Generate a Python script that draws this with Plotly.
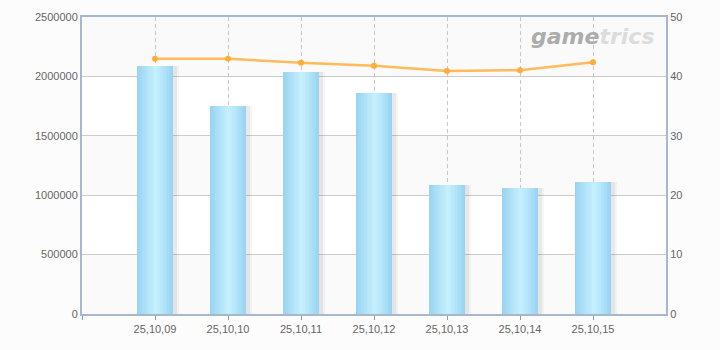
import plotly.graph_objects as go

categories = ["25,10,09", "25,10,10", "25,10,11", "25,10,12", "25,10,13", "25,10,14", "25,10,15"]
bar_values = [2090000, 1750000, 2036000, 1860000, 1084000, 1059000, 1109000]
line_values = [42.96, 42.96, 42.3, 41.8, 40.9, 41.05, 42.4]
left_ticks = [0, 500000, 1000000, 1500000, 2000000, 2500000]
right_ticks = [0, 10, 20, 30, 40, 50]

x = list(range(len(categories)))

fig = go.Figure()

# shadow
for off, col in [(0.075, "rgba(0,0,0,0.035)"), (0.045, "rgba(0,0,0,0.05)")]:
    fig.add_trace(go.Bar(x=x, y=bar_values, width=0.5, offset=-0.25 + off,
                         marker=dict(color=col, line=dict(width=0)),
                         hoverinfo="skip", showlegend=False))

# gradient layers
def lerp(c1, c2, t):
    return "#%02x%02x%02x" % tuple(int(round(a + (b - a) * t)) for a, b in zip(c1, c2))

edge_l = (0x98, 0xd3, 0xf1)
center = (0xc4, 0xef, 0xfd)
n = 12
for i in range(n):
    w = 0.5 * (n - i) / n
    t = i / (n - 1)
    col = lerp(edge_l, center, t ** 0.9)
    fig.add_trace(go.Bar(x=x, y=bar_values, width=w, offset=-w / 2 + 0.01 * t,
                         marker=dict(color=col, line=dict(width=0)),
                         hoverinfo="skip", showlegend=False))

fig.add_trace(go.Scatter(x=x, y=line_values, yaxis="y2", mode="lines+markers",
                         line=dict(color="rgba(255,175,60,0.85)", width=2.5),
                         marker=dict(color="#ffad3a", size=6),
                         showlegend=False))

shapes = []
for i in range(0, len(left_ticks) - 1, 2):
    shapes.append(dict(type="rect", xref="paper", yref="y", x0=0, x1=1,
                       y0=left_ticks[i], y1=left_ticks[i + 1],
                       fillcolor="#fafafa", line=dict(width=0), layer="below"))

font = dict(family="Liberation Sans, Arial, sans-serif", size=11, color="#666666")

fig.update_layout(
    width=720, height=350,
    margin=dict(l=82, r=54, t=17, b=36),
    paper_bgcolor="#fcfcfc", plot_bgcolor="#ffffff",
    barmode="overlay", bargap=0,
    shapes=shapes,
    font=font,
    xaxis=dict(range=[-1, len(categories)], tickmode="array",
               tickvals=[-1] + x, ticktext=[""] + categories,
               showgrid=True, gridcolor="#c8c8c8", griddash="4px,3px", gridwidth=1,
               zeroline=False, showline=True, linecolor="#a8b8cc", linewidth=2,
               mirror=True, ticks="outside", ticklen=4, tickcolor="#8a9aae",
               tickfont=font, fixedrange=True),
    yaxis=dict(range=[0, 2500000], tickvals=left_ticks,
               ticktext=[str(v) for v in left_ticks],
               showgrid=True, gridcolor="#cccccc", gridwidth=1, zeroline=False,
               showline=True, linecolor="#a8b8cc", linewidth=2,
               ticks="", tickfont=font),
    yaxis2=dict(range=[0, 50], tickvals=right_ticks, overlaying="y", side="right",
                showgrid=False, zeroline=False, showline=True,
                linecolor="#a8b8cc", linewidth=2, ticks="", tickfont=font),
    annotations=[dict(xref="paper", yref="paper", x=0.985, y=0.935,
                      xanchor="right", yanchor="middle", showarrow=False,
                      text="<b><i><span style='color:#acacac'>game</span><span style='color:#dcdcdc'>trics</span></i></b>",
                      font=dict(family="DejaVu Sans, sans-serif", size=22))],
)

fig.write_html("out.html")
